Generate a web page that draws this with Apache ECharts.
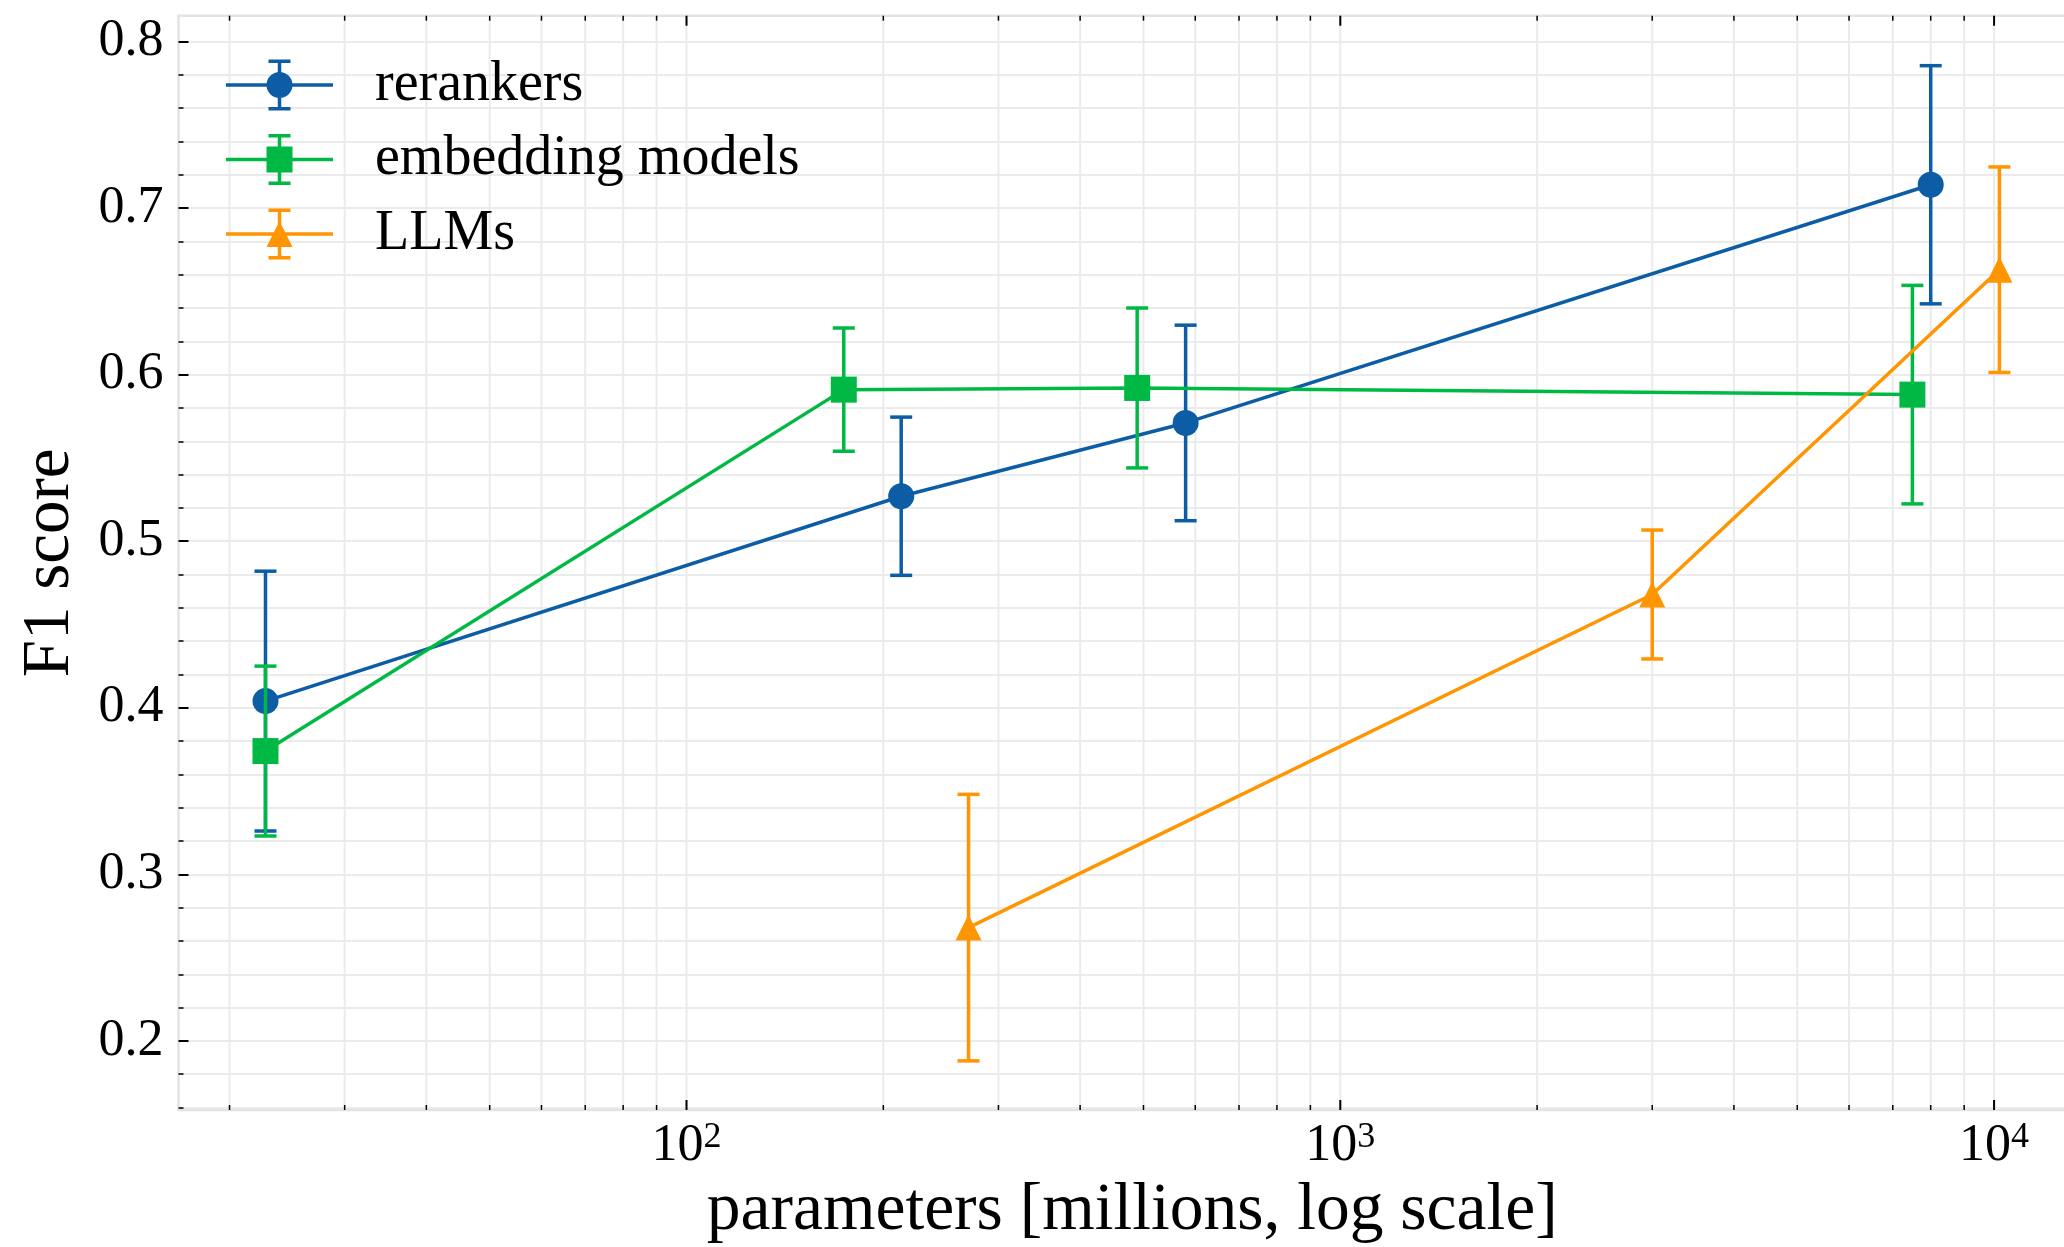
<!DOCTYPE html>
<html><head><meta charset="utf-8">
<script src="https://cdn.jsdelivr.net/npm/echarts@6/dist/echarts.min.js"></script>
<style>html,body{margin:0;padding:0;background:#fff}#chart{width:2064px;height:1247px}</style>
</head><body><div id="chart"></div>
<script>
// ---- data (parameters in millions, F1 score, error) ----
const rerankerParams = [22.7, 213, 580, 8000];
const rerankerF1     = [0.404, 0.527, 0.571, 0.714];
const rerankerErr    = [0.078, 0.0475, 0.0587, 0.0715];

const embeddingParams = [22.7, 174, 489, 7500];
const embeddingF1     = [0.374, 0.591, 0.592, 0.588];
const embeddingErr    = [0.051, 0.037, 0.048, 0.0656];

const llmParams = [270, 3000, 10190];
const llmF1     = [0.268, 0.468, 0.663];
const llmErr    = [0.080, 0.0387, 0.0617];

const seriesNames = ['rerankers', 'embedding models', 'LLMs'];
const xMajorTicks = [100, 1000, 10000];
const xMinorTicks = [20, 30, 40, 50, 60, 70, 80, 90, 200, 300, 400, 500, 600, 700, 800, 900,
                     2000, 3000, 4000, 5000, 6000, 7000, 8000, 9000];
const yTicks = [0.2, 0.3, 0.4, 0.5, 0.6, 0.7, 0.8];

const X_MIN = 16.71, X_MAX = 13823;
const Y_MIN = 0.1585, Y_MAX = 0.8155;

const COLORS = ['#0C5DA5', '#00B945', '#FF9500'];
const GRID = '#ebebeb';
const FONT = 'Liberation Serif';
const LW = 3.5;

const zip2 = (a, b) => a.map((v, i) => [v, b[i]]);
const zip3 = (a, b, c) => a.map((v, i) => [v, b[i], c[i]]);

function errRender(color) {
  return function (params, api) {
    const x = api.value(0), y = api.value(1), e = api.value(2);
    const hi = api.coord([x, y + e]);
    const lo = api.coord([x, y - e]);
    const c = 11;
    const st = { stroke: color, lineWidth: LW };
    return { type: 'group', children: [
      { type: 'line', shape: { x1: hi[0], y1: hi[1], x2: lo[0], y2: lo[1] }, style: st },
      { type: 'line', shape: { x1: hi[0] - c, y1: hi[1], x2: hi[0] + c, y2: hi[1] }, style: st },
      { type: 'line', shape: { x1: lo[0] - c, y1: lo[1], x2: lo[0] + c, y2: lo[1] }, style: st }
    ]};
  };
}

function xGridRender(params, api) {
  const v = api.value(0), major = api.value(1);
  const top = api.coord([v, Y_MAX]);
  const bot = api.coord([v, Y_MIN]);
  const L = major ? 10 : 5, w = major ? 2 : 1.5;
  return { type: 'group', children: [
    { type: 'line', shape: { x1: top[0], y1: top[1], x2: bot[0], y2: bot[1] }, style: { stroke: GRID, lineWidth: 2 } },
    { type: 'line', shape: { x1: bot[0], y1: bot[1], x2: bot[0], y2: bot[1] - L }, style: { stroke: '#000', lineWidth: w } },
    { type: 'line', shape: { x1: top[0], y1: top[1], x2: top[0], y2: top[1] + L }, style: { stroke: '#000', lineWidth: w } }
  ]};
}

// legend handles: line + marker + error bar with caps (box 107 x 51)
const BASE = 'M0 23.75 L107 23.75 L107 27.25 L0 27.25 Z M51.75 0 L55.25 0 L55.25 51 L51.75 51 Z M42.5 0 L64.5 0 L64.5 3.5 L42.5 3.5 Z M42.5 47.5 L64.5 47.5 L64.5 51 L42.5 51 Z ';
const ICON_CIRCLE = 'path://' + BASE + 'M66.5 25.5 A13 13 0 1 1 40.5 25.5 A13 13 0 1 1 66.5 25.5 Z';
const ICON_SQUARE = 'path://' + BASE + 'M40.5 12.5 L66.5 12.5 L66.5 38.5 L40.5 38.5 Z';
const ICON_TRI    = 'path://' + BASE + 'M53.5 12.5 L66.5 38.5 L40.5 38.5 Z';

const gridData = xMajorTicks.map(v => [v, 1]).concat(xMinorTicks.map(v => [v, 0]));

const chart = echarts.init(document.getElementById('chart'), null, { renderer: 'canvas' });
chart.setOption({
  animation: false,
  backgroundColor: '#fff',
  grid: { show: true, left: 178.5, top: 15.7, width: 1907.5, bottom: 137,
          outerBoundsMode: 'none', containLabel: false,
          borderColor: '#e3e3e3', borderWidth: 2.5, backgroundColor: 'transparent' },
  legend: {
    orient: 'vertical', left: 221, top: 52,
    itemWidth: 107, itemHeight: 51, itemGap: 18.5,
    selectedMode: false,
    data: [
      { name: seriesNames[0], icon: ICON_CIRCLE },
      { name: seriesNames[1], icon: ICON_SQUARE },
      { name: seriesNames[2], icon: ICON_TRI }
    ],
    textStyle: { fontFamily: FONT, fontSize: 56, color: '#000', lineHeight: 51, padding: [0, 0, 0, 37] }
  },
  xAxis: {
    type: 'log', logBase: 10, min: X_MIN, max: X_MAX,
    axisLine: { show: false },
    axisTick: { show: false },
    splitLine: { show: false },
    minorTick: { show: false },
    axisLabel: {
      showMinLabel: false, showMaxLabel: false, margin: 10,
      formatter: v => '{b|10}{s|' + Math.round(Math.log10(v)) + '}',
      rich: {
        b: { fontFamily: FONT, fontSize: 52, color: '#000', lineHeight: 52 },
        s: { fontFamily: FONT, fontSize: 36, color: '#000', lineHeight: 36, verticalAlign: 'top' }
      }
    },
    name: 'parameters [millions, log scale]', nameLocation: 'middle', nameGap: 68,
    nameTextStyle: { fontFamily: FONT, fontSize: 67.5, color: '#000', verticalAlign: 'top', lineHeight: 66 }
  },
  yAxis: {
    type: 'value', min: Y_MIN, max: Y_MAX,
    axisLine: { show: false },
    axisTick: { show: true, inside: true, length: 10, lineStyle: { color: '#000', width: 2 }, customValues: yTicks },
    minorTick: { show: true, splitNumber: 5, length: 5, lineStyle: { color: '#000', width: 1.5 } },
    splitLine: { show: true, lineStyle: { color: GRID, width: 2 } },
    minorSplitLine: { show: true, lineStyle: { color: GRID, width: 2 } },
    axisLabel: { customValues: yTicks,
                 formatter: v => v.toFixed(1), fontFamily: FONT, fontSize: 52, color: '#000', margin: 15 },
    name: 'F1 score', nameLocation: 'middle', nameRotate: 90, nameGap: 95,
    nameTextStyle: { fontFamily: FONT, fontSize: 67, color: '#000' }
  },
  series: [
    { type: 'custom', name: 'xgrid', data: gridData, renderItem: xGridRender, z: 1, silent: true,
      encode: { x: 0 } },
    { type: 'custom', name: 'rerankers-err', data: zip3(rerankerParams, rerankerF1, rerankerErr),
      renderItem: errRender(COLORS[0]), encode: { x: 0, y: 1 }, z: 2 },
    { type: 'line', name: seriesNames[0], data: zip2(rerankerParams, rerankerF1),
      symbol: 'circle', symbolSize: 26, showAllSymbol: true,
      lineStyle: { color: COLORS[0], width: LW }, itemStyle: { color: COLORS[0] }, z: 3 },
    { type: 'custom', name: 'embedding-err', data: zip3(embeddingParams, embeddingF1, embeddingErr),
      renderItem: errRender(COLORS[1]), encode: { x: 0, y: 1 }, z: 4 },
    { type: 'line', name: seriesNames[1], data: zip2(embeddingParams, embeddingF1),
      symbol: 'rect', symbolSize: 26, showAllSymbol: true,
      lineStyle: { color: COLORS[1], width: LW }, itemStyle: { color: COLORS[1] }, z: 5 },
    { type: 'custom', name: 'llm-err', data: zip3(llmParams, llmF1, llmErr),
      renderItem: errRender(COLORS[2]), encode: { x: 0, y: 1 }, z: 6 },
    { type: 'line', name: seriesNames[2], data: zip2(llmParams, llmF1),
      symbol: 'triangle', symbolSize: 26, showAllSymbol: true,
      lineStyle: { color: COLORS[2], width: LW }, itemStyle: { color: COLORS[2] }, z: 7 }
  ]
});
</script>
</body></html>
